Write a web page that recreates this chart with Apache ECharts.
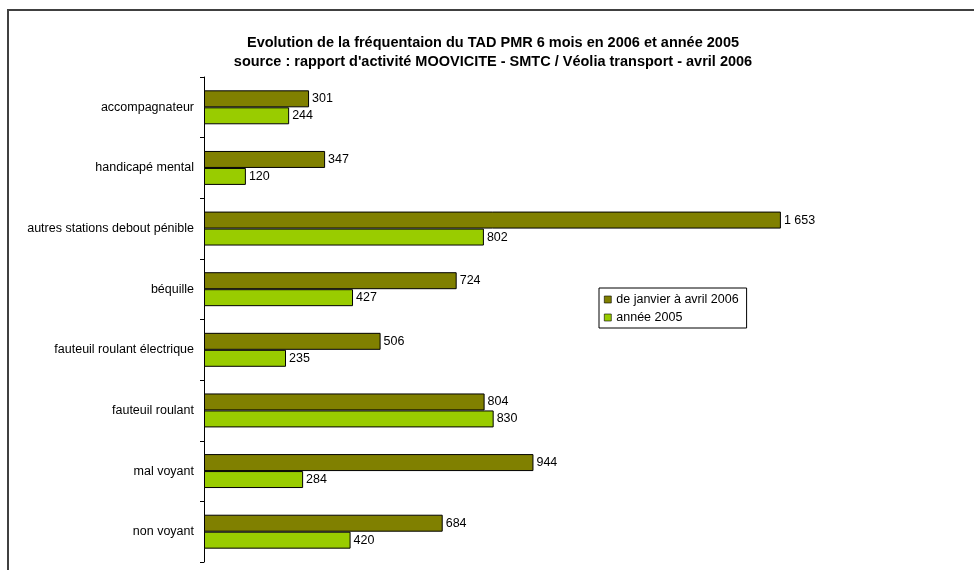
<!DOCTYPE html>
<html>
<head>
<meta charset="utf-8">
<script src="https://cdn.jsdelivr.net/npm/echarts@6/dist/echarts.min.js"></script>
<style>
  html, body { margin: 0; padding: 0; background: #fff; }
  #chart1 { width: 974px; height: 570px; }
</style>
</head>
<body>
<div id="chart1"></div>
<script>
var categories = ["accompagnateur", "handicapé mental", "autres stations debout pénible", "béquille",
    "fauteuil roulant électrique", "fauteuil roulant", "mal voyant", "non voyant"];
var values2006 = [301, 347, 1653, 724, 506, 804, 944, 684];
var values2005 = [244, 120, 802, 427, 235, 830, 284, 420];
var seriesNames = ["de janvier à avril 2006", "année 2005"];

var fmtNombre = function (v) {
    return String(v).replace(/\B(?=(\d{3})+(?!\d))/g, " ");
};

var LoadChart = function () {
    var myChart = echarts.init(document.getElementById("chart1"));
    var labelStyle = {
        show: true,
        position: "right",
        distance: 3,
        color: "#000",
        fontFamily: "Liberation Sans, Arial",
        fontSize: 12.5,
        formatter: function (p) { return fmtNombre(p.value); }
    };
    var option = {
        animation: false,
        textStyle: { fontFamily: "Liberation Sans, Arial" },
        title: {
            text: "Evolution de la fréquentaion du TAD PMR 6 mois en 2006 et année 2005\nsource : rapport d'activité MOOVICITE - SMTC / Véolia transport - avril 2006",
            left: 488,
            top: 28,
            textAlign: "center",
            textStyle: {
                fontFamily: "Liberation Sans, Arial",
                fontSize: 14.5,
                fontWeight: "bold",
                color: "#000",
                lineHeight: 19
            }
        },
        legend: {
            orient: "vertical",
            left: 599,
            top: 288,
            padding: [5, 8, 4, 5],
            itemGap: 5,
            itemWidth: 7,
            itemHeight: 7,
            borderColor: "#000",
            borderWidth: 1,
            icon: "rect",
            itemStyle: { borderWidth: 0.6 },
            textStyle: { fontFamily: "Liberation Sans, Arial", fontSize: 12.5, color: "#000" },
            data: seriesNames
        },
        grid: {
            left: 204,
            right: 72,
            top: 77,
            bottom: 8,
            containLabel: false
        },
        xAxis: {
            type: "value",
            min: 0,
            max: 2000,
            show: false
        },
        yAxis: {
            type: "category",
            inverse: true,
            data: categories,
            axisLine: { lineStyle: { color: "#000", width: 1 } },
            axisTick: { show: true, length: 4, lineStyle: { color: "#000" } },
            axisLabel: {
                color: "#000",
                fontFamily: "Liberation Sans, Arial",
                fontSize: 12.5,
                margin: 10
            }
        },
        series: [
            {
                name: seriesNames[0],
                type: "bar",
                data: values2006,
                barGap: "0%",
                barCategoryGap: "44%",
                itemStyle: { color: "#808000", borderColor: "#000", borderWidth: 1 },
                label: labelStyle
            },
            {
                name: seriesNames[1],
                type: "bar",
                data: values2005,
                itemStyle: { color: "#99CC00", borderColor: "#000", borderWidth: 1 },
                label: labelStyle
            }
        ],
        graphic: [
            {
                type: "rect",
                silent: true,
                shape: { x: 8, y: 10, width: 1000, height: 600 },
                style: { fill: null, stroke: "#404040", lineWidth: 2 }
            }
        ]
    };
    myChart.setOption(option);
};

LoadChart();
</script>
</body>
</html>
